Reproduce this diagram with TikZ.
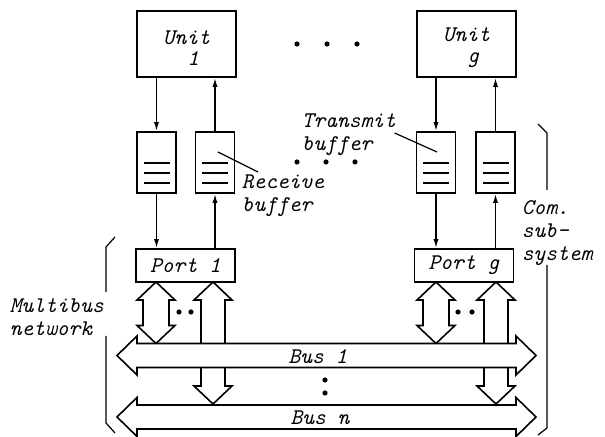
\documentclass[tikz,border=0pt]{standalone}
\usepackage{fontspec}
\usetikzlibrary{arrows.meta,calc,positioning}
\newcommand{\fatvarrow}[4]{% x, top tip, bottom tip, half shaft
  \draw[fat] (#1,#2) -- (#1+19,#2+18) -- (#1+#4,#2+18) -- (#1+#4,#3-18) -- (#1+19,#3-18)
    -- (#1,#3) -- (#1-19,#3-18) -- (#1-#4,#3-18) -- (#1-#4,#2+18) -- (#1-19,#2+18) -- cycle;}
\newcommand{\busarrow}[1]{% y centre
  \draw[fat] (117,#1) -- (137,#1-19.5) -- (137,#1-12) -- (516,#1-12) -- (516,#1-19.5)
    -- (536,#1) -- (516,#1+19.5) -- (516,#1+12) -- (137,#1+12) -- (137,#1+19.5) -- cycle;}
\tikzset{
  lbl/.style={font=\ttfamily\itshape\fontsize{11.2}{11.5}\selectfont,inner sep=0pt},
  unitbox/.style={draw,lbl,minimum width=49.5pt,minimum height=33pt,align=center,line width=.9pt},
  portbox/.style={draw,lbl,minimum width=49.5pt,minimum height=16.5pt,line width=.9pt},
  bufbox/.style={draw,inner sep=0pt,minimum width=19.5pt,minimum height=30.5pt,line width=.9pt,
    path picture={\foreach \k in {0,1,2}
      \draw[line width=.6pt] ([xshift=-6.5pt,yshift={-(0.3+5*\k)*1pt}]path picture bounding box.center) -- ++(13pt,0pt);}},
  fat/.style={draw,fill=white,line width=.8pt,line join=miter},
  brace/.style={line width=.6pt},
}
\begin{document}
\begin{tikzpicture}[x=.5pt,y=-.5pt,>={Latex[length=4.5pt,width=2.6pt]},line width=.75pt]
  \useasboundingbox (0,0) rectangle (605,437);
  % units, buffers, ports
  \node[unitbox] (u1) at (186.5,44) {\rule{0pt}{11pt}Unit\\[-1pt]\hspace*{.6em}1};
  \node[unitbox] (ug) at (466.5,44) {\rule{0pt}{11pt}Unit\\[-1pt]\hspace*{.6em}g};
  \node[bufbox] (tb1) at (156.5,162.5) {};
  \node[bufbox] (rb1) at (215,162.5) {};
  \node[bufbox] (tbg) at (436,162.5) {};
  \node[bufbox] (rbg) at (495.5,162.5) {};
  \node[portbox] (p1) at (185.5,265.5) {Port 1};
  \node[portbox] (pg) at (464,265.5) {Port g};
  \foreach \u/\t/\r/\p in {u1/tb1/rb1/p1,ug/tbg/rbg/pg}{
    \draw[->] (\u.south -| \t) -- (\t);
    \draw[->] (\t) -- (\t |- \p.north);
    \draw[->] (\p.north -| \r) -- (\r);
    \draw[->] (\r) -- (\r |- \u.south);
  }
  % buses
  \fatvarrow{213}{282}{404}{12}
  \fatvarrow{496}{282}{404}{12}
  \fatvarrow{156}{282}{343.5}{13}
  \fatvarrow{436}{282}{343.5}{13}
  \busarrow{355.5}
  \busarrow{417}
  \node[lbl] (b1) at (318,357) {Bus 1};
  \node[lbl] (bn) at (320,418) {Bus n};
  % dots
  \foreach \x in {297,327,357} \fill (\x,44) circle (1.3pt);
  \foreach \x in {297,326,355} \fill (\x,162) circle (1.3pt);
  \foreach \x in {179,191,458,472} \fill (\x,312) circle (1.3pt);
  \foreach \y in {380,393} \fill (325,\y) circle (1.3pt);
  % labels
  \node[lbl,anchor=west,align=left] (rblab) at (241,196) {Receive\\buffer};
  \node[lbl,anchor=west,align=left] (tblab) at (301,134.5) {Transmit\\buffer};
  \node[lbl,anchor=west,align=left] (comlab) at (521,233.5) {Com.\\sub-\\system};
  \node[lbl,anchor=west,align=left] (mblab) at (9,317.5) {Multibus\\network};
  \draw[line width=.6pt] ([shift={(17,-24)}]rblab.west) -- ([shift={(3,-10.5)}]rb1.center);
  \draw[line width=.6pt] ([shift={(-2,-1.5)}]tblab.east) -- ([shift={(1,-10.5)}]tbg.center);
  \draw[brace] (115,237) -- (106,247) -- (106,292) (106,336) -- (106,423) -- (115,433);
  \draw[brace] (538,124) -- (547,133) -- (547,190) (547,265) -- (547,428) -- (538,435);
\end{tikzpicture}
\end{document}
